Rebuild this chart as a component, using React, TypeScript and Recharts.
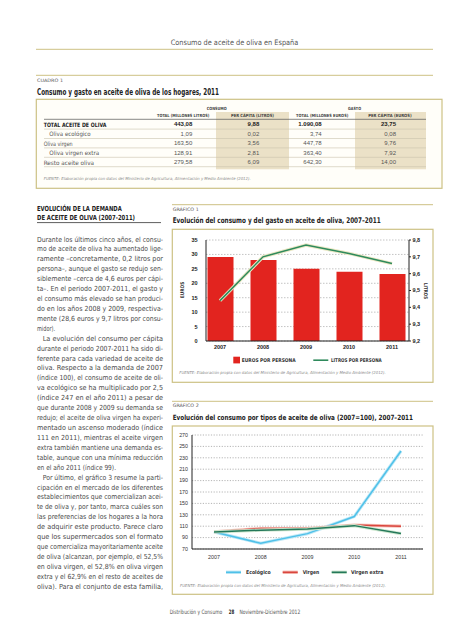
import React from 'react';
import { ComposedChart, LineChart, Bar, Line, XAxis, YAxis, CartesianGrid } from 'recharts';

const FONT = "'Liberation Sans Narrow', 'DejaVu Sans Condensed', 'Liberation Sans', Arial, sans-serif";
const NUMFONT = "'Liberation Sans', Arial, sans-serif";

// ---------- Gráfico 1 ----------
const years = ['2007', '2008', '2009', '2010', '2011'];
const eurosPorPersona = [29.1, 28.1, 25.0, 24.0, 23.2];
const litrosPorPersona = [9.44, 9.7, 9.77, 9.72, 9.66];
const eurosTicks = [0, 5, 10, 15, 20, 25, 30, 35];
const litrosTicks = [9.2, 9.3, 9.4, 9.5, 9.6, 9.7, 9.8];

// ---------- Gráfico 2 ----------
const ecologico = [100, 80, 97, 127, 242];
const virgen = [100, 106, 106, 112, 110];
const virgenExtra = [100, 103, 105, 111, 97];
const indiceTicks = [70, 90, 110, 130, 150, 170, 190, 210, 230, 250, 270];

// ---------- Cuadro 1 ----------
const tableRows = ['TOTAL ACEITE DE OLIVA', 'Oliva ecológico', 'Oliva virgen', 'Oliva virgen extra', 'Resto aceite oliva'];
const consumoTotal = ['443,08', '1,09', '163,50', '128,91', '279,58'];
const consumoPerCapita = ['9,88', '0,02', '3,56', '2,81', '6,09'];
const gastoTotal = ['1.090,08', '3,74', '447,78', '363,40', '642,30'];
const gastoPerCapita = ['23,75', '0,08', '9,76', '7,92', '14,00'];
const tableHeaders = ['TOTAL (MILLONES LITROS)', 'PER CÁPITA (LITROS)', 'TOTAL (MILLONES EUROS)', 'PER CÁPITA (EUROS)'];
const tableGroups = ['CONSUMO', 'GASTO'];

// ---------- Texto ----------
const para1 = [
  'Durante los últimos cinco años, el consu-',
  'mo de aceite de oliva ha aumentado lige-',
  'ramente –concretamente, 0,2 litros por',
  'persona–, aunque el gasto se redujo sen-',
  'siblemente –cerca de 4,6 euros per cápi-',
  'ta–. En el periodo 2007-2011, el gasto y',
  'el consumo más elevado se han produci-',
  'do en los años 2008 y 2009, respectiva-',
  'mente (28,6 euros y 9,7 litros por consu-',
  'midor).',
];
const para2 = [
  'La evolución del consumo per cápita',
  'durante el periodo 2007-2011 ha sido di-',
  'ferente para cada variedad de aceite de',
  'oliva. Respecto a la demanda de 2007',
  '(índice 100), el consumo de aceite de oli-',
  'va ecológico se ha multiplicado por 2,5',
  '(índice 247 en el año 2011) a pesar de',
  'que durante 2008 y 2009 su demanda se',
  'redujo; el aceite de oliva virgen ha experi-',
  'mentado un ascenso moderado (índice',
  '111 en 2011), mientras el aceite virgen',
  'extra también mantiene una demanda es-',
  'table, aunque con una mínima reducción',
  'en el año 2011 (índice 99).',
];
const para3 = [
  'Por último, el gráfico 3 resume la parti-',
  'cipación en el mercado de los diferentes',
  'establecimientos que comercializan acei-',
  'te de oliva y, por tanto, marca cuáles son',
  'las preferencias de los hogares a la hora',
  'de adquirir este producto. Parece claro',
  'que los supermercados son el formato',
  'que comercializa mayoritariamente aceite',
  'de oliva (alcanzan, por ejemplo, el 52,5%',
  'en oliva virgen, el 52,8% en oliva virgen',
  'extra y el 62,9% en el resto de aceites de',
  'oliva). Para el conjunto de esta familia,',
];
const fuente = 'FUENTE: Elaboración propia con datos del Ministerio de Agricultura, Alimentación y Medio Ambiente (2012).';

const OLIVE = '#cdc184';
const RED = '#e2241f';
const GREEN = '#2f8a5c';

function T({ x, y, w, s = 6, fw = 400, c = '#333', a = 'start', it = false, rot, ff = FONT, children }: any) {
  const extra: any = w ? { textLength: w, lengthAdjust: 'spacingAndGlyphs' } : {};
  return (
    <text
      x={x}
      y={y}
      fontSize={s}
      fontWeight={fw}
      fill={c}
      textAnchor={a}
      dominantBaseline="central"
      fontStyle={it ? 'italic' : 'normal'}
      fontFamily={ff}
      transform={rot ? `rotate(${rot} ${x} ${y})` : undefined}
      {...extra}
    >
      {children}
    </text>
  );
}

function Body() {
  const paras = [para1, para2, para3];
  const lastW = [18, 79];
  const out: any[] = [];
  let idx = 0;
  paras.forEach((p, pi) => {
    p.forEach((line, li) => {
      const y = 239.5 + idx * 9.92;
      const x = li === 0 && pi > 0 ? 42.7 : 37;
      const isLast = li === p.length - 1 && pi < 2;
      const w = isLast ? lastW[pi] : 163 - x;
      out.push(
        <T key={`b${idx}`} x={x} y={y} w={w} s={7} c="#4a4a4a">
          {line}
        </T>
      );
      idx++;
    });
  });
  return <g>{out}</g>;
}

function Table() {
  const rowY = (i: number) => 124.4 + i * 9.4;
  const labelX = [43.7, 49.3, 43.7, 49.3, 43.7];
  const labelW = [62.6, 41.4, 29, 50, 50.3];
  const colR = [192.3, 259.3, 321.7, 396];
  const cols = [consumoTotal, consumoPerCapita, gastoTotal, gastoPerCapita];
  const headC = [183.2, 252.5, 322.2, 390];
  const headW = [52.3, 43, 52.3, 43.4];
  return (
    <g>
      <rect x={36.3} y={99.3} width={405.7} height={89} fill="#fffef9" stroke={OLIVE} strokeWidth={1.2} />
      <rect x={216} y={112} width={73} height={57.3} fill="#ebe1c7" />
      <rect x={355} y={112} width={71} height={57.3} fill="#ebe1c7" />
      <T x={216.7} y={108} a="middle" s={4.3} fw={700} c="#444" w={20}>{tableGroups[0]}</T>
      <T x={354.5} y={108} a="middle" s={4.3} fw={700} c="#444" w={13}>{tableGroups[1]}</T>
      {tableHeaders.map((h, i) => (
        <T key={h} x={headC[i]} y={115} a="middle" s={4.3} fw={700} c="#444" w={headW[i]}>{h}</T>
      ))}
      <line x1={44} x2={426} y1={119.3} y2={119.3} stroke="#555" strokeWidth={0.7} />
      {tableRows.map((r, i) => (
        <g key={r}>
          <T x={labelX[i]} y={rowY(i)} s={6} fw={i === 0 ? 700 : 400} c={i === 0 ? '#222' : '#555'} w={labelW[i]}>{r}</T>
          {cols.map((col, ci) => (
            <T key={ci} x={colR[ci]} y={rowY(i)} a="end" s={6} ff={NUMFONT} fw={i === 0 ? 700 : 400} c={i === 0 ? '#222' : '#555'}>{col[i]}</T>
          ))}
          <line x1={44} x2={426} y1={rowY(i) + 4.7} y2={rowY(i) + 4.7} stroke="#c9c3ad" strokeWidth={0.6} />
        </g>
      ))}
      <T x={43.7} y={178} s={4} it c="#8a8a8a" w={207}>{fuente}</T>
    </g>
  );
}

export default function App() {
  const chart1Data = years.map((year, i) => ({ year, euros: eurosPorPersona[i], litros: litrosPorPersona[i], litrosHalo: litrosPorPersona[i] }));
  const chart2Data = years.map((year, i) => ({ year, eco: ecologico[i], virgen: virgen[i], extra: virgenExtra[i] }));
  const tick1 = { fontSize: 5.5, fill: '#222', fontFamily: NUMFONT, fontWeight: 700 };
  const tick2 = { fontSize: 5.3, fill: '#333', fontFamily: NUMFONT };
  const legend2 = [
    { name: 'Ecológico', color: '#4fc1e9', halo: '#bfe8f6', x: 226, lx: 246, w: 24.7 },
    { name: 'Virgen', color: '#d9463f', halo: '#f6bcb3', x: 282.7, lx: 302.7, w: 16.6 },
    { name: 'Virgen extra', color: '#24785a', halo: '#cde7cf', x: 331.7, lx: 351, w: 32.3 },
  ];
  return (
    <div style={{ position: 'absolute', left: 0, top: 0, width: 469, height: 640, background: '#fff', overflow: 'hidden' }}>
      <svg width={469} height={640} style={{ position: 'absolute', left: 0, top: 0 }}>
        {/* Cabecera */}
        <T x={234.5} y={42.7} a="middle" s={7.5} c="#555" w={127.6}>Consumo de aceite de oliva en España</T>
        <line x1={36} x2={433} y1={49.3} y2={49.3} stroke={OLIVE} strokeWidth={1} />
        <line x1={36} x2={433} y1={75.3} y2={75.3} stroke={OLIVE} strokeWidth={1} />
        <T x={37} y={80.5} s={4.6} c="#555" w={26}>CUADRO 1</T>
        <T x={37} y={91.7} s={8.3} fw={700} c="#222" w={182}>Consumo y gasto en aceite de oliva de los hogares, 2011</T>
        <Table />

        {/* Columna de texto */}
        <T x={37} y={209} s={7} fw={700} c="#222" w={84.7}>EVOLUCIÓN DE LA DEMANDA</T>
        <T x={37} y={218.3} s={7} fw={700} c="#222" w={98}>DE ACEITE DE OLIVA (2007-2011)</T>
        <line x1={37} x2={161} y1={222.6} y2={222.6} stroke="#333" strokeWidth={0.8} />
        <Body />

        {/* Gráfico 1 */}
        <line x1={172} x2={433} y1={204.7} y2={204.7} stroke={OLIVE} strokeWidth={1} />
        <T x={172.7} y={209.9} s={4.6} c="#555" w={26}>GRÁFICO 1</T>
        <T x={172.7} y={220.6} s={7.8} fw={700} c="#222" w={208}>Evolución del consumo y del gasto en aceite de oliva, 2007–2011</T>
        <rect x={172.3} y={229.3} width={260.7} height={153} fill="#fff" stroke={OLIVE} strokeWidth={1.2} />
        <T x={181.7} y={290} a="middle" s={5} fw={700} c="#333" w={16.6} rot={-90}>EUROS</T>
        <T x={426} y={291} a="middle" s={5} fw={700} c="#333" w={16} rot={90}>LITROS</T>
        <rect x={233.3} y={356.7} width={6.7} height={6.7} fill={RED} />
        <T x={241.7} y={360.2} s={5.2} fw={700} c="#333" w={54}>EUROS POR PERSONA</T>
        <line x1={313.3} x2={328.3} y1={360.2} y2={360.2} stroke={GREEN} strokeWidth={1.6} />
        <T x={331} y={360.2} s={5.2} fw={700} c="#333" w={50.7}>LITROS POR PERSONA</T>
        <T x={179.3} y={372.3} s={4} it c="#8a8a8a" w={206.4}>{fuente}</T>

        {/* Gráfico 2 */}
        <line x1={172} x2={433} y1={401.3} y2={401.3} stroke={OLIVE} strokeWidth={1} />
        <T x={172.7} y={405.8} s={4.6} c="#555" w={26}>GRÁFICO 2</T>
        <T x={172.7} y={417.3} s={7.2} fw={700} c="#222" w={240.3}>Evolución del consumo por tipos de aceite de oliva (2007=100), 2007–2011</T>
        <rect x={172.3} y={426} width={260.7} height={168.3} fill="#fff" stroke={OLIVE} strokeWidth={1.2} />
        {legend2.map((l) => (
          <g key={l.name}>
            <line x1={l.x} x2={l.x + 15} y1={572.3} y2={572.3} stroke={l.halo} strokeWidth={3.4} />
            <line x1={l.x} x2={l.x + 15} y1={572.3} y2={572.3} stroke={l.color} strokeWidth={1.6} />
            <T x={l.lx} y={572.3} s={5.3} fw={700} c="#333" w={l.w}>{l.name}</T>
          </g>
        ))}
        <T x={180} y={585.3} s={4} it c="#8a8a8a" w={206}>{fuente}</T>

        {/* Pie */}
        <T x={222.2} y={611.7} a="end" s={6} c="#555" w={52.5}>Distribución y Consumo</T>
        <T x={231.6} y={611.7} a="middle" s={6} fw={700} c="#222" w={5.6}>28</T>
        <T x={239.4} y={611.7} s={6} c="#555" w={60.8}>Noviembre-Diciembre 2012</T>
      </svg>

      <div style={{ position: 'absolute', left: 172, top: 229 }}>
        <ComposedChart width={261} height={153} data={chart1Data} margin={{ top: 11, right: 0, bottom: 0, left: 0 }}>
          <CartesianGrid yAxisId="left" vertical={false} stroke="#c4c4c4" strokeDasharray="1.5 1.5" />
          <XAxis
            dataKey="year"
            height={41}
            padding={{ left: -7.5, right: -4.5 }}
            tickLine={false}
            tickSize={2}
            tickMargin={1.75}
            axisLine={{ stroke: '#222', strokeWidth: 1 }}
            tick={tick1}
            interval={0}
          />
          <YAxis
            yAxisId="left"
            orientation="left"
            width={34}
            domain={[0, 35]}
            ticks={eurosTicks}
            interval={0}
            tickLine={false}
            tickSize={0}
            tickMargin={8.5}
            axisLine={{ stroke: '#222', strokeWidth: 1 }}
            tick={tick1}
          />
          <YAxis
            yAxisId="right"
            orientation="right"
            width={24}
            domain={[9.2, 9.8]}
            ticks={litrosTicks}
            interval={0}
            tickSize={2}
            tickMargin={1.5}
            tickLine={{ stroke: '#222' }}
            axisLine={{ stroke: '#222', strokeWidth: 1 }}
            tickFormatter={(v: number) => v.toFixed(1).replace('.', ',')}
            tick={tick1}
          />
          <Bar yAxisId="left" dataKey="euros" fill={RED} barSize={26} isAnimationActive={false} />
          <Line yAxisId="right" type="linear" dataKey="litrosHalo" stroke="#ebe8c4" strokeWidth={3.4} dot={false} activeDot={false} isAnimationActive={false} />
          <Line yAxisId="right" type="linear" dataKey="litros" stroke={GREEN} strokeWidth={1.5} dot={false} activeDot={false} isAnimationActive={false} />
        </ComposedChart>
      </div>

      <div style={{ position: 'absolute', left: 172, top: 426 }}>
        <LineChart width={261} height={168} data={chart2Data} margin={{ top: 9, right: 10, bottom: 0, left: 0 }}>
          <CartesianGrid vertical={false} stroke="#b5b5b5" strokeDasharray="1.2 1.5" />
          <XAxis
            dataKey="year"
            height={45}
            padding={{ left: 22, right: 22 }}
            tickLine={false}
            tickSize={2}
            tickMargin={4.7}
            axisLine={{ stroke: '#222', strokeWidth: 1.2 }}
            tick={tick2}
            interval={0}
          />
          <YAxis
            width={20}
            domain={[70, 270]}
            ticks={indiceTicks}
            interval={0}
            tickLine={false}
            tickSize={0}
            tickMargin={4}
            axisLine={{ stroke: '#222', strokeWidth: 1 }}
            tick={tick2}
          />
          {legend2.map((l, i) => {
            const key = ['eco', 'virgen', 'extra'][i];
            return [
              <Line key={key + 'h'} type="linear" dataKey={key} stroke={l.halo} strokeWidth={3.2} dot={false} activeDot={false} isAnimationActive={false} legendType="none" />,
              <Line key={key} type="linear" dataKey={key} stroke={l.color} strokeWidth={1.5} dot={false} activeDot={false} isAnimationActive={false} />,
            ];
          })}
        </LineChart>
      </div>
    </div>
  );
}
